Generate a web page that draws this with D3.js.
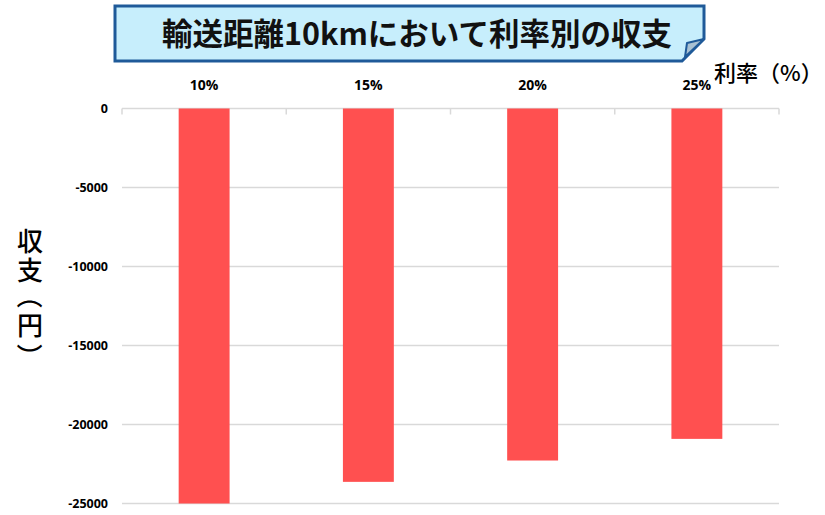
<!DOCTYPE html>
<html>
<head>
<meta charset="utf-8">
<script src="https://cdn.jsdelivr.net/npm/d3@7"></script>
<style>
  html, body { margin: 0; padding: 0; background: #fff; }
  svg { display: block; }
</style>
</head>
<body>
<svg id="chart" width="825" height="515"></svg>
<script>
// Income/expense by interest rate at a 10 km transport distance
const categories = ["10%", "15%", "20%", "25%"];
const balance = [-25000, -23630, -22280, -20910];
const yTicks = [0, -5000, -10000, -15000, -20000, -25000];

const titleText = "輸送距離10kmにおいて利率別の収支";
const xTitle = "利率（%）";
const yTitle = "収支（円）";

const svg = d3.select("#chart");
const margin = { left: 122, right: 46, top: 108.5, bottom: 11.5 };
const W = 825, H = 515;

const x = d3.scaleBand()
  .domain(categories)
  .range([margin.left, W - margin.right])
  .paddingInner(0.69)
  .paddingOuter(0.345);

const y = d3.scaleLinear()
  .domain([0, -25000])
  .range([margin.top, H - margin.bottom]);

const numFont = "'Open Sans', 'Noto Sans', sans-serif";
const cjkFont = "'Noto Sans CJK JP', sans-serif";

// horizontal gridlines
svg.append("g")
  .selectAll("line")
  .data(yTicks)
  .join("line")
  .attr("x1", margin.left)
  .attr("x2", W - margin.right)
  .attr("y1", d => y(d))
  .attr("y2", d => y(d))
  .attr("stroke", "#d9d9d9")
  .attr("stroke-width", 1.5);

// category boundary ticks hanging from the zero line
const bounds = d3.range(categories.length + 1).map(i => margin.left + i * x.step());
svg.append("g")
  .selectAll("line")
  .data(bounds)
  .join("line")
  .attr("x1", d => d)
  .attr("x2", d => d)
  .attr("y1", y(0))
  .attr("y2", y(0) + 6)
  .attr("stroke", "#d9d9d9")
  .attr("stroke-width", 1.5);

// bars
svg.append("g")
  .selectAll("rect")
  .data(categories.map((c, i) => ({ c, v: balance[i] })))
  .join("rect")
  .attr("x", d => x(d.c))
  .attr("width", x.bandwidth())
  .attr("y", y(0))
  .attr("height", d => y(d.v) - y(0))
  .attr("fill", "#ff5050");

// y axis labels (plain hyphen minus)
const yAxis = d3.axisLeft(y).tickValues(yTicks).tickSize(0).tickPadding(14)
  .tickFormat(d => String(d));
const gy = svg.append("g").attr("transform", `translate(${margin.left},0)`).call(yAxis);
gy.select(".domain").remove();
gy.selectAll("text")
  .attr("font-family", numFont)
  .attr("font-weight", 700)
  .attr("font-size", 12.5)
  .attr("fill", "#000");

// category labels along the top
const xAxis = d3.axisTop(x).tickSize(0).tickPadding(19);
const gx = svg.append("g").attr("transform", `translate(0,${margin.top})`).call(xAxis);
gx.select(".domain").remove();
gx.selectAll("text")
  .attr("font-family", numFont)
  .attr("font-weight", 700)
  .attr("font-size", 14)
  .attr("fill", "#000");

// x axis title
svg.append("text")
  .attr("x", 714)
  .attr("y", 81)
  .attr("font-family", cjkFont)
  .attr("font-weight", 500)
  .attr("font-size", 22)
  .attr("fill", "#000")
  .text(xTitle);

// y axis title, stacked vertically in one text element with per-glyph positions;
// brackets are turned a quarter so they read as vertical forms
const fs = 26;
const cx = 30;
const rowCentres = [241.5, 270, 301, 325, 351];
const glyphs = Array.from(yTitle).map((ch, i) => {
  const c = rowCentres[i];
  if (ch === "（") return { x: cx - 0.38 * fs, y: c - 0.7 * fs, rot: 90 };
  if (ch === "）") return { x: cx - 0.38 * fs, y: c - 0.3 * fs, rot: 90 };
  return { x: cx - fs / 2, y: c + 0.38 * fs, rot: 0 };
});
svg.append("text")
  .attr("x", glyphs.map(g => g.x.toFixed(1)).join(" "))
  .attr("y", glyphs.map(g => g.y.toFixed(1)).join(" "))
  .attr("rotate", glyphs.map(g => g.rot).join(" "))
  .attr("font-family", cjkFont)
  .attr("font-weight", 500)
  .attr("font-size", fs)
  .attr("fill", "#000")
  .text(yTitle);

// title banner with folded corner
const bx0 = 115, by0 = 6, bx1 = 704, by1 = 61, fold = 22;
const banner = svg.append("g");
banner.append("path")
  .attr("d", `M${bx0},${by0}H${bx1}V${by1 - fold}L${bx1 - fold},${by1}H${bx0}Z`)
  .attr("fill", "#c7eefc")
  .attr("stroke", "#1f5a99")
  .attr("stroke-width", 3)
  .attr("stroke-linejoin", "miter");
banner.append("path")
  .attr("d", `M${bx1},${by1 - fold}L${bx1 - fold + 3},${by1 - 4}L${bx1 - fold + 5},${by1 - fold + 4}Z`)
  .attr("fill", "#a9c1d3")
  .attr("stroke", "#1f5a99")
  .attr("stroke-width", 2)
  .attr("stroke-linejoin", "round");
banner.append("text")
  .attr("x", 417)
  .attr("y", 45)
  .attr("text-anchor", "middle")
  .attr("font-family", cjkFont)
  .attr("font-weight", 700)
  .attr("font-size", 30.5)
  .attr("fill", "#111")
  .text(titleText);
</script>
</body>
</html>
